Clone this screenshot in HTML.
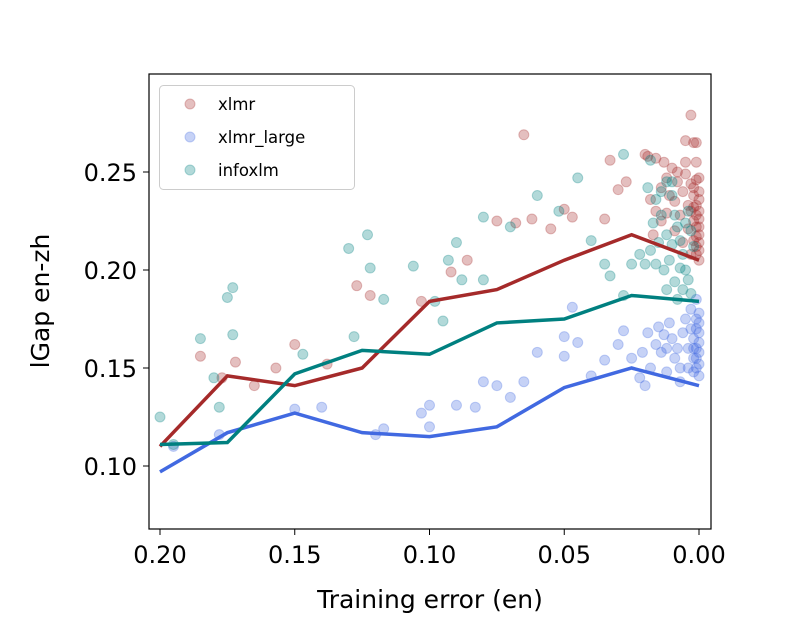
<!DOCTYPE html>
<html><head><meta charset="utf-8"><style>
html,body{margin:0;padding:0;background:#fff;}
svg text{font-family:"DejaVu Sans","Liberation Sans",sans-serif;}
</style></head><body>
<svg id="chart" width="789" height="631" xmlns="http://www.w3.org/2000/svg">
<rect x="0" y="0" width="789" height="631" fill="#fff"/>
<g id="scatter"></g>
<g id="lines"></g>
<rect x="149" y="74" width="562" height="455" fill="none" stroke="#000" stroke-width="1.2"/>
<g id="axes"></g>
<text x="430" y="608" font-size="25" text-anchor="middle">Training error (en)</text>
<text transform="translate(49,301) rotate(-90)" font-size="25" text-anchor="middle">lGap en-zh</text>
<g>
<rect x="159.5" y="85.5" width="195" height="104" rx="4" fill="#fff" fill-opacity="0.8" stroke="#ccc"/>
<circle cx="190" cy="104" r="5" fill="#a52a2a" fill-opacity="0.3" stroke="#a52a2a" stroke-opacity="0.3"/>
<text x="218" y="110" font-size="16.5">xlmr</text>
<circle cx="190" cy="137" r="5" fill="#4169e1" fill-opacity="0.3" stroke="#4169e1" stroke-opacity="0.3"/>
<text x="218" y="143" font-size="16.5">xlmr_large</text>
<circle cx="190" cy="170" r="5" fill="#008080" fill-opacity="0.3" stroke="#008080" stroke-opacity="0.3"/>
<text x="218" y="176" font-size="16.5">infoxlm</text>
</g>
</svg>
<script>
const lineX = [0.2,0.175,0.15,0.125,0.1,0.075,0.05,0.025,0.0];
const xlmrLine = [0.110,0.146,0.141,0.150,0.184,0.190,0.205,0.218,0.205];
const infoxlmLine = [0.111,0.112,0.147,0.159,0.157,0.173,0.175,0.187,0.184];
const largeLine = [0.097,0.117,0.127,0.117,0.115,0.120,0.140,0.150,0.141];
const xTicks = [0.20,0.15,0.10,0.05,0.00];
const xTickLabels = ["0.20","0.15","0.10","0.05","0.00"];
const yTicks = [0.10,0.15,0.20,0.25];
const yTickLabels = ["0.10","0.15","0.20","0.25"];
const xlmrPts = [[0.185,0.156],[0.172,0.153],[0.177,0.145],[0.165,0.141],[0.157,0.150],[0.15,0.162],[0.138,0.152],[0.127,0.192],[0.122,0.187],[0.103,0.184],[0.092,0.199],[0.086,0.205],[0.075,0.225],[0.068,0.224],[0.065,0.269],[0.062,0.226],[0.055,0.221],[0.05,0.231],[0.047,0.227],[0.035,0.226],[0.033,0.256],[0.03,0.241],[0.027,0.245],[0.02,0.259],[0.019,0.258],[0.016,0.257],[0.013,0.255],[0.01,0.252],[0.005,0.266],[0.003,0.279],[0.002,0.265],[0.001,0.265],[0.018,0.236],[0.016,0.230],[0.014,0.242],[0.012,0.247],[0.011,0.238],[0.009,0.235],[0.008,0.245],[0.007,0.228],[0.006,0.240],[0.005,0.249],[0.004,0.233],[0.004,0.221],[0.003,0.244],[0.003,0.230],[0.002,0.238],[0.002,0.225],[0.002,0.215],[0.001,0.246],[0.001,0.233],[0.001,0.222],[0.001,0.212],[0.0,0.240],[0.0,0.230],[0.0,0.226],[0.0,0.218],[0.0,0.210],[0.0,0.205],[0.003,0.208],[0.006,0.214],[0.009,0.220],[0.014,0.225],[0.017,0.218],[0.012,0.229],[0.005,0.255],[0.008,0.250],[0.001,0.255],[0.0,0.236],[0.0,0.222],[0.001,0.228],[0.001,0.217],[0.002,0.232],[0.0,0.214],[0.001,0.208],[0.002,0.242],[0.0,0.247]];
const infoxlmPts = [[0.2,0.125],[0.195,0.111],[0.178,0.130],[0.18,0.145],[0.175,0.186],[0.173,0.191],[0.173,0.167],[0.185,0.165],[0.147,0.157],[0.13,0.211],[0.123,0.218],[0.122,0.201],[0.117,0.185],[0.128,0.166],[0.106,0.202],[0.098,0.184],[0.095,0.174],[0.093,0.205],[0.09,0.214],[0.088,0.195],[0.08,0.227],[0.08,0.195],[0.07,0.222],[0.06,0.238],[0.052,0.230],[0.045,0.247],[0.04,0.215],[0.035,0.203],[0.025,0.203],[0.022,0.208],[0.028,0.187],[0.033,0.197],[0.028,0.259],[0.018,0.256],[0.019,0.242],[0.016,0.236],[0.014,0.240],[0.012,0.245],[0.01,0.238],[0.009,0.228],[0.008,0.222],[0.012,0.218],[0.015,0.214],[0.007,0.215],[0.006,0.208],[0.011,0.205],[0.013,0.200],[0.005,0.200],[0.004,0.195],[0.009,0.194],[0.012,0.190],[0.006,0.190],[0.008,0.185],[0.003,0.220],[0.004,0.230],[0.002,0.212],[0.005,0.224],[0.014,0.228],[0.017,0.224],[0.010,0.213],[0.007,0.201],[0.003,0.188],[0.018,0.210],[0.016,0.203],[0.020,0.203],[0.010,0.245]];
const largePts = [[0.195,0.110],[0.178,0.116],[0.15,0.129],[0.14,0.130],[0.12,0.116],[0.117,0.119],[0.103,0.127],[0.1,0.131],[0.1,0.120],[0.09,0.131],[0.083,0.130],[0.08,0.143],[0.075,0.141],[0.07,0.135],[0.065,0.143],[0.06,0.158],[0.05,0.166],[0.05,0.156],[0.047,0.181],[0.045,0.163],[0.04,0.146],[0.035,0.154],[0.03,0.162],[0.028,0.169],[0.025,0.155],[0.022,0.145],[0.02,0.141],[0.018,0.150],[0.015,0.171],[0.013,0.167],[0.012,0.160],[0.011,0.173],[0.010,0.165],[0.009,0.155],[0.008,0.160],[0.007,0.150],[0.006,0.168],[0.005,0.175],[0.004,0.160],[0.004,0.150],[0.003,0.180],[0.003,0.170],[0.002,0.165],[0.002,0.155],[0.002,0.148],[0.001,0.185],[0.001,0.175],[0.001,0.160],[0.001,0.150],[0.0,0.178],[0.0,0.168],[0.0,0.158],[0.0,0.152],[0.0,0.146],[0.014,0.158],[0.016,0.162],[0.012,0.148],[0.007,0.143],[0.019,0.168],[0.021,0.158],[0.0,0.163],[0.001,0.170],[0.001,0.155],[0.0,0.173],[0.002,0.160]];

const NS = "http://www.w3.org/2000/svg";
function xs(v){ return 160 + (0.2 - v) * 2695; }
function ys(v){ return 172 + (0.25 - v) * 1960; }

const sc = document.getElementById('scatter');
function drawPts(pts, color, nm){
  pts.forEach(p => {
    const c = document.createElementNS(NS,'circle');
    c.setAttribute('cx', xs(p[0])); c.setAttribute('cy', ys(p[1])); c.setAttribute('r', 5);
    c.setAttribute('fill', color); c.setAttribute('fill-opacity', 0.3);
    c.setAttribute('stroke', color); c.setAttribute('stroke-opacity', 0.3);
    
    
    sc.appendChild(c);
  });
}
drawPts(xlmrPts, '#a52a2a', 'xlmr-point');
drawPts(largePts, '#4169e1', 'xlmr-large-point');
drawPts(infoxlmPts, '#008080', 'infoxlm-point');

const lg = document.getElementById('lines');
function drawLine(vals, color, nm){
  const p = document.createElementNS(NS,'polyline');
  p.setAttribute('points', vals.map((v,i)=>xs(lineX[i])+','+ys(v)).join(' '));
  p.setAttribute('fill','none'); p.setAttribute('stroke',color); p.setAttribute('stroke-width',3.5);
  
  
  lg.appendChild(p);
}
drawLine(xlmrLine, '#a52a2a', 'xlmr-line');
drawLine(largeLine, '#4169e1', 'xlmr-large-line');
drawLine(infoxlmLine, '#008080', 'infoxlm-line');

const ax = document.getElementById('axes');
xTicks.forEach((t,i) => {
  const l = document.createElementNS(NS,'line');
  l.setAttribute('x1', xs(t)); l.setAttribute('x2', xs(t)); l.setAttribute('y1', 529); l.setAttribute('y2', 535);
  l.setAttribute('stroke','#000');
  
  
  ax.appendChild(l);
  const tx = document.createElementNS(NS,'text');
  tx.setAttribute('x', xs(t)); tx.setAttribute('y', 563); tx.setAttribute('font-size', 24); tx.setAttribute('text-anchor','middle');
  tx.textContent = xTickLabels[i];
  
  
  ax.appendChild(tx);
});
yTicks.forEach((t,i) => {
  const l = document.createElementNS(NS,'line');
  l.setAttribute('x1', 143); l.setAttribute('x2', 149); l.setAttribute('y1', ys(t)); l.setAttribute('y2', ys(t));
  l.setAttribute('stroke','#000');
  
  
  ax.appendChild(l);
  const tx = document.createElementNS(NS,'text');
  tx.setAttribute('x', 137); tx.setAttribute('y', ys(t)+9); tx.setAttribute('font-size', 24); tx.setAttribute('text-anchor','end');
  tx.textContent = yTickLabels[i];
  
  
  ax.appendChild(tx);
});
</script>
</body></html>
